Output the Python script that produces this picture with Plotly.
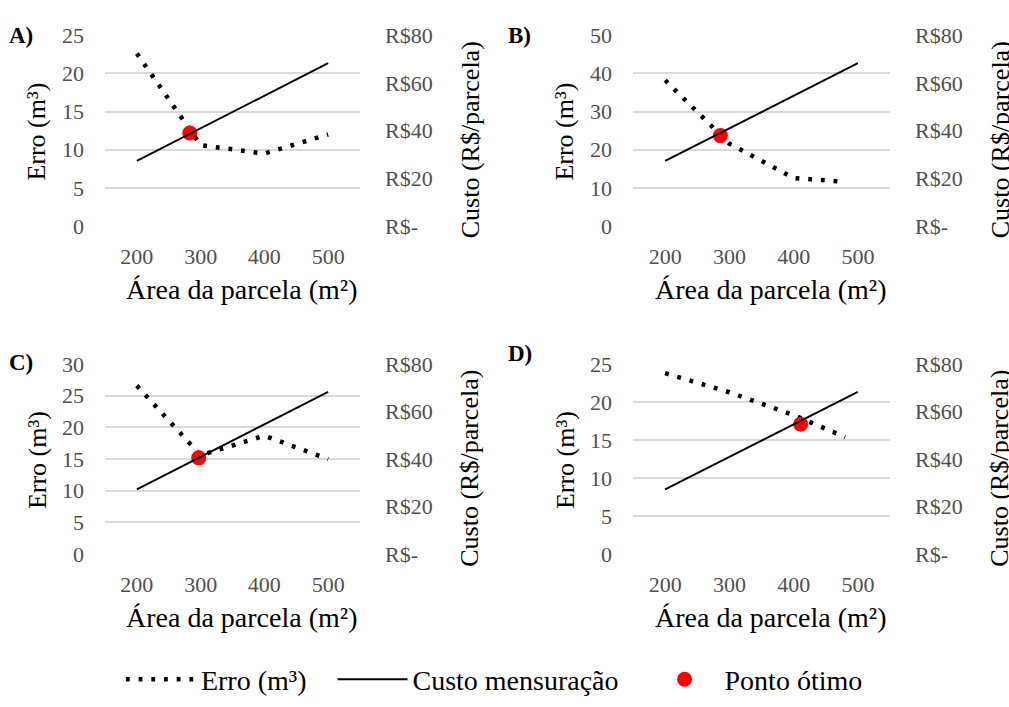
import plotly.graph_objects as go

W, H = 1009, 707

# ---------------- data ----------------
area = [200, 300, 400, 500]
area_short = [200, 300, 400, 480]
custo = [27.3, 41.0, 54.6, 68.3]
erro_a = [22.6, 10.6, 9.5, 12.0]
erro_b = [38.2, 21.6, 12.6, 11.6]
erro_c = [26.6, 15.6, 18.7, 15.0]
erro_d = [23.8, 21.3, 18.3, 15.4]
otimo_x = [283, 286, 297, 411]
otimo_y = [12.2, 23.7, 15.2, 17.1]
panel_labels = ["A)", "B)", "C)", "D)"]
erro_max = [25, 50, 30, 25]
erro_dtick = [5, 10, 5, 5]
x_ticks = [200, 300, 400, 500]
custo_ticks = [0, 20, 40, 60, 80]
custo_ticktext = ["R$-", "R$20", "R$40", "R$60", "R$80"]

erro_x = [area, area_short, area, area_short]
erro_y = [erro_a, erro_b, erro_c, erro_d]

NB = "\u00a0"

# ---------------- layout geometry (pixels) ----------------
boxes = [(105, 360, 24, 222), (633, 890, 24, 222),
         (105, 360, 365, 562), (633, 890, 365, 562)]
label_pos = [(21, 24), (519, 24), (21, 363), (520, 354)]

FONT = "Liberation Serif, Times New Roman, serif"
TICK_COLOR = "#505050"
GRID = "#d9d9d9"


def px_x(p):
    return p / W


def px_y(p):
    return 1 - p / H


fig = go.Figure()
layout = dict(
    width=W, height=H,
    margin=dict(l=0, r=0, t=0, b=0),
    paper_bgcolor="white", plot_bgcolor="white",
    font=dict(family=FONT, color="black"),
    showlegend=True,
    legend=dict(orientation="h", x=0.49, xanchor="center", y=px_y(692), yanchor="middle",
                font=dict(size=28, family=FONT, color="black"),
                itemwidth=70, tracegroupgap=0, bgcolor="rgba(0,0,0,0)"),
)
annotations = []

for i in range(4):
    n = i + 1
    xl, xr, yt, yb = boxes[i]
    xa = "xaxis" if n == 1 else f"xaxis{n}"
    ya = "yaxis" if n == 1 else f"yaxis{n}"
    ya2 = f"yaxis{n + 4}"
    xref = "x" if n == 1 else f"x{n}"
    yref = "y" if n == 1 else f"y{n}"
    y2ref = f"y{n + 4}"

    layout[xa] = dict(domain=[px_x(xl), px_x(xr)], anchor=yref, range=[150, 550],
                      tickvals=x_ticks, showgrid=False, zeroline=False, showline=False,
                      ticks="", ticklabelstandoff=15,
                      tickfont=dict(size=22, family=FONT, color=TICK_COLOR))
    layout[ya] = dict(domain=[px_y(yb), px_y(yt)], anchor=xref, range=[0, erro_max[i]],
                      dtick=erro_dtick[i], tick0=0, showgrid=True, gridcolor=GRID, gridwidth=1.5,
                      zeroline=False, showline=False, ticks="", ticklabelstandoff=20,
                      tickfont=dict(size=22, family=FONT, color=TICK_COLOR))
    layout[ya2] = dict(domain=[px_y(yb), px_y(yt)], anchor=xref, overlaying=yref, side="right",
                       range=[0, 80], tickvals=custo_ticks, ticktext=custo_ticktext,
                       showgrid=False, zeroline=False, showline=False, ticks="",
                       ticklabelstandoff=24,
                       tickfont=dict(size=22, family=FONT, color=TICK_COLOR))

    fig.add_trace(go.Scatter(x=erro_x[i], y=erro_y[i], xaxis=xref, yaxis=yref, mode="lines",
                             line=dict(color="black", width=4.5, dash="3.8px,8.9px"),
                             name="Erro (m³)" + NB * 3, legendgroup="erro",
                             showlegend=(i == 0), hoverinfo="skip"))
    fig.add_trace(go.Scatter(x=area, y=custo, xaxis=xref, yaxis=y2ref, mode="lines",
                             line=dict(color="black", width=2),
                             name="Custo mensuração" + NB * 3, legendgroup="custo",
                             showlegend=(i == 0), hoverinfo="skip"))
    fig.add_trace(go.Scatter(x=[otimo_x[i]], y=[otimo_y[i]], xaxis=xref, yaxis=yref,
                             mode="markers", marker=dict(color="#ff0000", size=15),
                             name="Ponto ótimo", legendgroup="otimo",
                             showlegend=(i == 0), hoverinfo="skip"))

    cx = (xl + xr) / 2
    # panel label
    lx, ly = label_pos[i]
    annotations.append(dict(text=f"<b>{panel_labels[i]}</b>", x=px_x(lx), y=px_y(ly),
                            xref="paper", yref="paper", showarrow=False,
                            xanchor="center", yanchor="middle",
                            font=dict(size=23, family=FONT, color="black")))
    # x title
    annotations.append(dict(text="Área da parcela (m²)", x=px_x(cx + 9),
                            y=px_y(yb + 66), xref="paper", yref="paper", showarrow=False,
                            xanchor="center", yanchor="middle",
                            font=dict(size=28, family=FONT, color="black")))
    # left title
    annotations.append(dict(text="Erro (m³)", x=px_x(xl - 68),
                            y=px_y((yt + yb) / 2 + 1), xref="paper", yref="paper",
                            showarrow=False, textangle=-90, xanchor="center", yanchor="middle",
                            font=dict(size=26, family=FONT, color="black")))
    # right title
    annotations.append(dict(text="Custo (R$/parcela)", x=px_x(xr + 110),
                            y=px_y((yt + yb) / 2 + 10), xref="paper", yref="paper",
                            showarrow=False, textangle=-90, xanchor="center", yanchor="middle",
                            font=dict(size=26, family=FONT, color="black")))

layout["annotations"] = annotations
fig.update_layout(**layout)

fig.write_html("out.html", config={"displayModeBar": False},
               post_script="document.body.style.margin='0';document.body.style.overflow='hidden';")
